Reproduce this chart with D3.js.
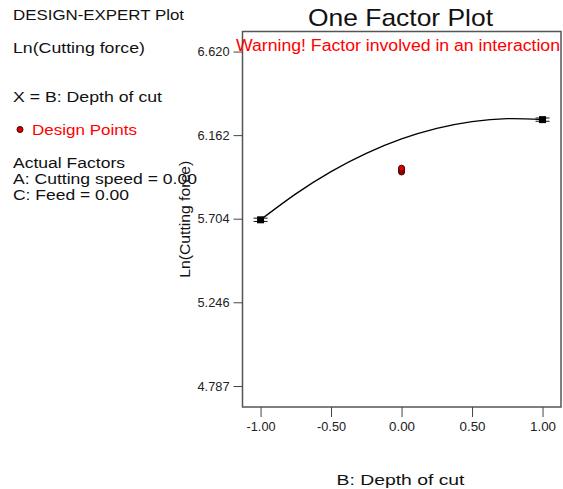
<!DOCTYPE html>
<html>
<head>
<meta charset="utf-8">
<script src="https://cdn.jsdelivr.net/npm/d3@7"></script>
<style>
  html, body { margin: 0; padding: 0; background: #fff; }
  svg { display: block; font-family: "Liberation Sans", Arial, sans-serif; }
</style>
</head>
<body>
<svg id="chart" width="563" height="489"></svg>
<script>
// Factor B (coded) and predicted Ln(Cutting force) along the model curve
const curveX = [-1.00, -0.75, -0.50, -0.25, 0.00, 0.25, 0.50, 0.75, 1.00];
const curveY = [5.698, 5.840, 5.962, 6.062, 6.141, 6.199, 6.236, 6.252, 6.247];

// Predicted values at the factor end points, with LSD half-widths
const endX = [-1.00, 1.00];
const endY = [5.698, 6.247];
const endHalfWidth = [0.009, 0.009];

// Observed design points at the centre
const designX = [0.00, 0.00, 0.00];
const designY = [5.960, 5.970, 5.981];

// Axis ticks
const yTicks = [4.787, 5.246, 5.704, 6.162, 6.620];
const yTickLabels = ["4.787", "5.246", "5.704", "6.162", "6.620"];
const xTicks = [-1.00, -0.50, 0.00, 0.50, 1.00];
const xTickLabels = ["-1.00", "-0.50", "0.00", "0.50", "1.00"];

const svg = d3.select("#chart");

const frame = { left: 242.5, right: 561, top: 31.5, bottom: 407 };

const x = d3.scaleLinear().domain([-1.128, 1.131]).range([frame.left, frame.right]);
const y = d3.scaleLinear().domain([4.672, 6.730]).range([frame.bottom, frame.top]);

// Plot frame
svg.append("rect")
  .attr("x", frame.left).attr("y", frame.top)
  .attr("width", frame.right - frame.left).attr("height", frame.bottom - frame.top)
  .attr("fill", "none").attr("stroke", "#555").attr("stroke-width", 1.5);

// Y axis
const yAxis = svg.append("g")
  .attr("transform", `translate(${frame.left},0)`)
  .call(d3.axisLeft(y).tickValues(yTicks)
    .tickFormat((d, i) => yTickLabels[i]).tickSize(9).tickSizeOuter(0).tickPadding(4));
yAxis.select(".domain").remove();
yAxis.selectAll(".tick line").attr("stroke", "#444").attr("stroke-width", 1);
yAxis.selectAll(".tick text")
  .attr("fill", "#222").attr("font-size", 12.5)
  .attr("font-family", "'Liberation Sans', Arial, sans-serif")
  .attr("textLength", 32).attr("lengthAdjust", "spacingAndGlyphs");

// X axis
const xAxis = svg.append("g")
  .attr("transform", `translate(0,${frame.bottom})`)
  .call(d3.axisBottom(x).tickValues(xTicks)
    .tickFormat((d, i) => xTickLabels[i]).tickSize(10).tickSizeOuter(0).tickPadding(5));
xAxis.select(".domain").remove();
xAxis.selectAll(".tick line").attr("stroke", "#444").attr("stroke-width", 1);
xAxis.selectAll(".tick text")
  .attr("fill", "#222").attr("font-size", 12.5)
  .attr("font-family", "'Liberation Sans', Arial, sans-serif")
  .attr("textLength", (d, i) => xTickLabels[i].startsWith("-") ? 29 : 26)
  .attr("lengthAdjust", "spacingAndGlyphs");

// Model curve
const curvePts = curveX.map((v, i) => [v, curveY[i]]);
svg.append("path")
  .datum(curvePts)
  .attr("fill", "none").attr("stroke", "#000").attr("stroke-width", 1.3)
  .attr("d", d3.line().x(d => x(d[0])).y(d => y(d[1])).curve(d3.curveNatural));

// LSD bars and end-point markers
const ends = endX.map((v, i) => ({ x: v, y: endY[i], h: endHalfWidth[i] }));
const endG = svg.append("g");
endG.selectAll("line.cap").data(ends.flatMap(d => [{ x: d.x, y: d.y + d.h }, { x: d.x, y: d.y - d.h }]))
  .join("line").attr("class", "cap")
  .attr("x1", d => x(d.x) - 7).attr("x2", d => x(d.x) + 7)
  .attr("y1", d => y(d.y)).attr("y2", d => y(d.y))
  .attr("stroke", "#111").attr("stroke-width", 1);
endG.selectAll("rect").data(ends).join("rect")
  .attr("x", d => x(d.x) - 3.5).attr("y", d => y(d.y) - 3.5)
  .attr("width", 7).attr("height", 7).attr("fill", "#000");

// Design points
svg.append("g").selectAll("circle")
  .data(designX.map((v, i) => [v, designY[i]]))
  .join("circle")
  .attr("cx", d => x(d[0])).attr("cy", d => y(d[1]))
  .attr("r", 3).attr("fill", "#e00000").attr("stroke", "#3a0000").attr("stroke-width", 1);

// Titles
svg.append("text").attr("x", 400.5).attr("y", 25.5).attr("text-anchor", "middle")
  .attr("font-size", 24).attr("fill", "#111")
  .attr("textLength", 185).attr("lengthAdjust", "spacingAndGlyphs").text("One Factor Plot");

svg.append("text").attr("x", 236).attr("y", 51)
  .attr("font-size", 16).attr("fill", "#ff0000")
  .attr("textLength", 324).attr("lengthAdjust", "spacingAndGlyphs")
  .text("Warning! Factor involved in an interaction");

svg.append("text").attr("x", 400.5).attr("y", 484.5).attr("text-anchor", "middle")
  .attr("font-size", 15.5).attr("fill", "#111")
  .attr("textLength", 128).attr("lengthAdjust", "spacingAndGlyphs").text("B: Depth of cut");

svg.append("text")
  .attr("transform", `translate(189.5,${(frame.top + frame.bottom) / 2}) rotate(-90)`)
  .attr("text-anchor", "middle").attr("font-size", 14).attr("fill", "#111")
  .attr("textLength", 117).attr("lengthAdjust", "spacingAndGlyphs").text("Ln(Cutting force)");

// Left-hand information panel
const info = [
  { text: "DESIGN-EXPERT Plot", y: 19.5, w: 171, color: "#111" },
  { text: "Ln(Cutting force)", y: 53, w: 132, color: "#111" },
  { text: "X = B: Depth of cut", y: 101.5, w: 149, color: "#111" },
  { text: "Actual Factors", y: 167.5, w: 112, color: "#111" },
  { text: "A: Cutting speed = 0.00", y: 183.5, w: 184, color: "#111" },
  { text: "C: Feed = 0.00", y: 199.5, w: 116, color: "#111" }
];
svg.append("g").selectAll("text").data(info).join("text")
  .attr("x", 13).attr("y", d => d.y)
  .attr("font-size", 15.5).attr("fill", d => d.color)
  .attr("textLength", d => d.w).attr("lengthAdjust", "spacingAndGlyphs")
  .text(d => d.text);

svg.append("circle").attr("cx", 20).attr("cy", 129.5).attr("r", 3)
  .attr("fill", "#e00000").attr("stroke", "#3a0000").attr("stroke-width", 1);
svg.append("text").attr("x", 32).attr("y", 135)
  .attr("font-size", 15.5).attr("fill", "#ff0000")
  .attr("textLength", 105).attr("lengthAdjust", "spacingAndGlyphs").text("Design Points");
</script>
</body>
</html>
